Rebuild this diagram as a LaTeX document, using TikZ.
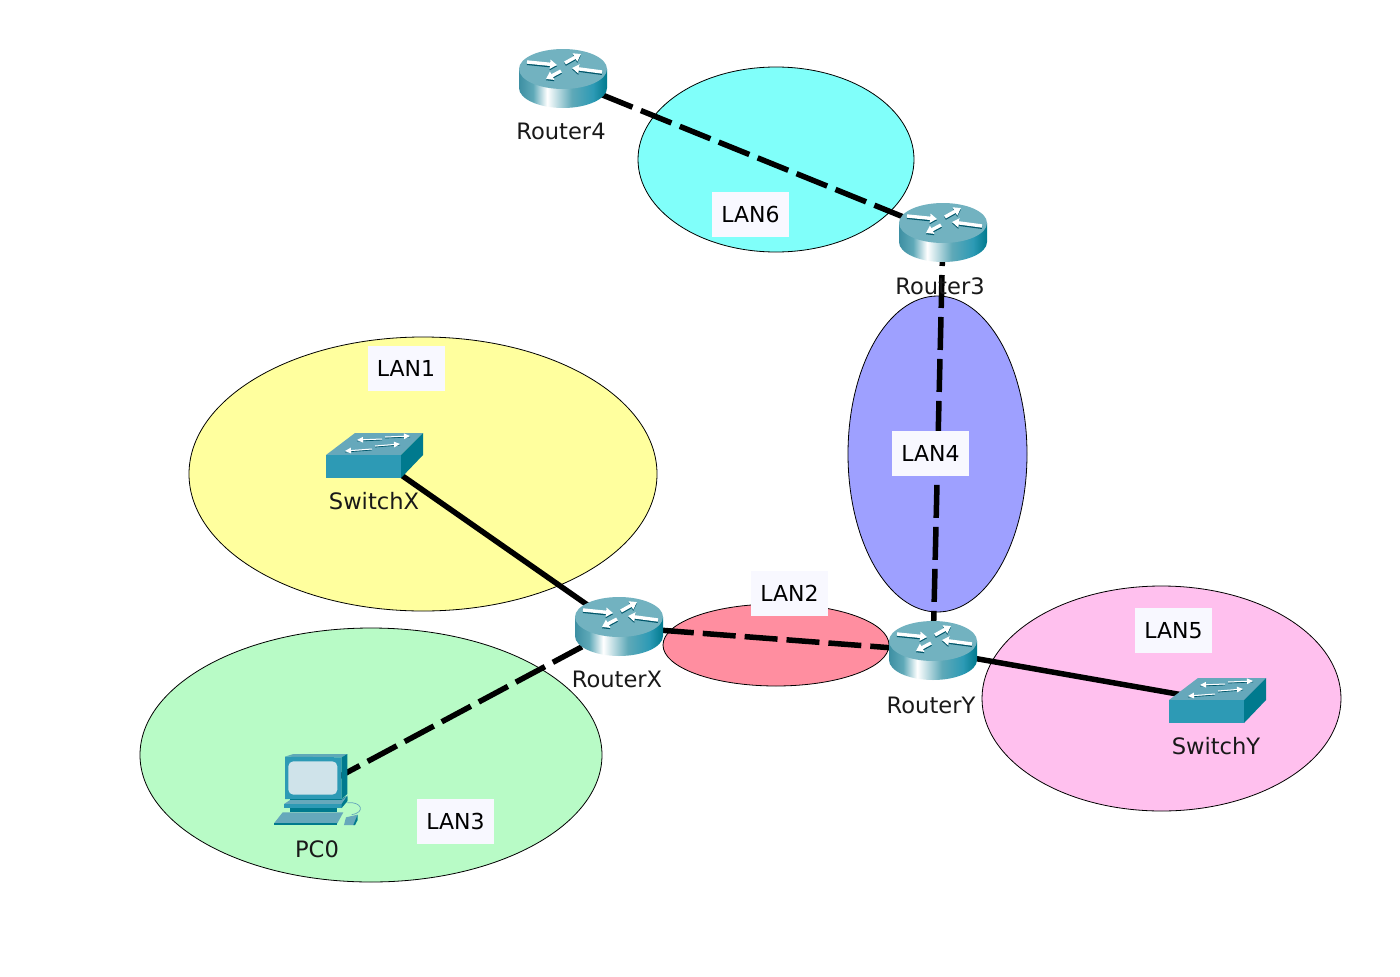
\documentclass[tikz,border=0pt]{standalone}
\usepackage{fontspec}
\setmainfont{DejaVu Sans}
\usetikzlibrary{arrows.meta}
\definecolor{iconA}{HTML}{3D8FA3}
\definecolor{iconB}{HTML}{72B2C0}
\definecolor{iconC}{HTML}{5FA9B8}
\definecolor{iconD}{HTML}{007A8E}
\definecolor{iconE}{HTML}{2D9AB5}
\definecolor{iconF}{HTML}{66A8BB}
\definecolor{iconG}{HTML}{CFE3EA}
\definecolor{iconH}{HTML}{00566A}
\definecolor{iconI}{HTML}{4AA0B6}
\pgfdeclarehorizontalshading{routerbody}{100bp}{color(0bp)=(iconA);color(25bp)=(iconA);color(33bp)=(iconC);color(41bp)=(white);color(55bp)=(iconC);color(67bp)=(iconE);color(75bp)=(iconD);color(100bp)=(iconD)}
\tikzset{
  x=1pt,y=-1pt,
  lan/.style={draw=black,line width=0.8pt},
  lanlabel/.style={fill=labelbg,minimum width=77pt,minimum height=45pt,inner sep=0pt,font=\fontsize{22}{26}\selectfont},
  devlabel/.style={inner sep=0pt,font=\fontsize{22.6}{26}\selectfont,text=black!90},
  hub/.style={inner sep=0pt,minimum size=0pt,outer sep=0pt},
  solidlink/.style={line width=5.5pt,black},
  dashlink/.style={line width=5.5pt,black,dash pattern=on 33pt off 9pt},
  iconarrow/.style={-{Triangle[length=7pt,width=9pt]},line width=3.4pt,white},
  iconshadow/.style={-{Triangle[length=7pt,width=9pt]},line width=3.4pt,iconH},
  router/.pic={
    \shade[shading=routerbody] (-44,-10) -- (-44,9) .. controls (-44,20) and (-24,29) .. (0,29) .. controls (24,29) and (44,20) .. (44,9) -- (44,-10) -- cycle;
    \fill[iconB] (0,-10) ellipse [x radius=44pt,y radius=20pt];
    \foreach \ax/\ay/\bx/\by in {-36/-17/-6/-14, 39/-7/9/-11, 2/-16/18/-25, -2/-8/-17/0}{
      \draw[iconshadow] (\ax,\ay+1.3) -- (\bx,\by+1.3);
      \draw[iconarrow] (\ax,\ay) -- (\bx,\by);
    }
  },
  switchicon/.pic={
    \fill[iconF] (-48,-1) -- (-19,-23) -- (49,-23) -- (27,-1) -- cycle;
    \fill[iconE] (-48,-1) -- (27,-1) -- (27,22) -- (-48,22) -- cycle;
    \fill[iconD] (27,-1) -- (49,-23) -- (49,-1) -- (27,22) -- cycle;
    \foreach \ax/\ay/\bx/\by in {8/-17/-17/-16, 11/-19/36/-20, -2/-7/-29/-5, 1/-10/26/-12}{
      \draw[iconH,line width=0.8pt] (\ax,\ay+1) -- (\bx,\by+1);
      \draw[white,-{Triangle[length=6pt,width=5.5pt]},line width=1pt] (\ax,\ay) -- (\bx,\by);
    }
  },
  pcicon/.pic={
    \begin{scope}[shift={(-56pt,45pt)},x=0.3333pt,y=-0.3333pt]
      \fill[iconC] (75,38) -- (100,30) -- (262,30) -- (245,40) -- cycle;
      \fill[iconE] (75,38) -- (245,40) -- (245,165) -- (75,165) -- cycle;
      \fill[iconD] (245,40) -- (262,30) -- (262,150) -- (245,165) -- cycle;
      \fill[iconG,rounded corners=5pt] (85,52) rectangle (232,152);
      \fill[iconD] (90,165) -- (245,165) -- (262,155) -- (262,170) -- (245,180) -- (90,180) -- cycle;
      \fill[iconF] (72,180) -- (90,168) -- (245,168) -- (262,155) -- (245,180) -- cycle;
      \fill[iconE] (72,180) -- (245,180) -- (245,192) -- (72,192) -- cycle;
      \fill[iconD] (245,180) -- (262,158) -- (262,172) -- (245,192) -- cycle;
      \fill[iconD] (90,192) -- (232,192) -- (232,205) -- (90,205) -- cycle;
      \fill[iconF] (42,238) -- (68,205) -- (250,205) -- (232,238) -- cycle;
      \fill[iconD] (42,238) -- (232,238) -- (232,243) -- (42,243) -- cycle;
      \draw[iconF,line width=0.7pt] (262,176) .. controls (305,172) and (318,205) .. (275,212);
      \fill[iconF] (252,243) -- (258,220) -- (293,212) -- (285,243) -- cycle;
      \fill[iconD] (280,243) -- (293,212) -- (293,228) -- (285,243) -- cycle;
    \end{scope}
  }
}
\definecolor{labelbg}{HTML}{F8F8FF}
\begin{document}
\begin{tikzpicture}
\useasboundingbox (0,0) rectangle (1400,977);
\fill[white] (0,0) rectangle (1400,977);
% LAN areas
\draw[lan,fill={rgb,255:red,128;green,255;blue,250}] (776,159.5) ellipse [x radius=138pt,y radius=92.5pt];
\draw[lan,fill={rgb,255:red,158;green,160;blue,255}] (937.5,454) ellipse [x radius=89.5pt,y radius=158pt];
\draw[lan,fill={rgb,255:red,255;green,255;blue,158}] (423,474) ellipse [x radius=234pt,y radius=137pt];
\draw[lan,fill={rgb,255:red,184;green,251;blue,198}] (371,755) ellipse [x radius=231pt,y radius=127pt];
\draw[lan,fill={rgb,255:red,255;green,142;blue,160}] (776,645) ellipse [x radius=113pt,y radius=41pt];
\draw[lan,fill={rgb,255:red,255;green,192;blue,238}] (1161.5,698.5) ellipse [x radius=179.5pt,y radius=112.5pt];
% device anchors
\node[hub] (r4) at (563,79) {};
\node[hub] (r3) at (943,233) {};
\node[hub] (rx) at (619,627) {};
\node[hub] (ry) at (933,651) {};
\node[hub] (sx) at (374,456) {};
\node[hub] (sy) at (1217,701) {};
\node[hub] (pc) at (316,789) {};
% links
\draw[dashlink] (r4) -- (r3);
\draw[dashlink] (r3) -- (ry);
\draw[dashlink] (rx) -- (ry);
\draw[dashlink] (rx) -- (pc);
\draw[solidlink] (sx) -- (rx);
\draw[solidlink] (ry) -- (sy);
% icons
\pic at (r4) {router};
\pic at (r3) {router};
\pic at (rx) {router};
\pic at (ry) {router};
\pic at (sx) {switchicon};
\pic at (sy) {switchicon};
\pic at (pc) {pcicon};
% device labels
\node[devlabel] (lr4) at (561,131) {Router4};
\node[devlabel] (lr3) at (940,286) {Router3};
\node[devlabel] (lrx) at (617,679) {RouterX};
\node[devlabel] (lry) at (931,705) {RouterY};
\node[devlabel] (lsx) at (374,501) {SwitchX};
\node[devlabel] (lsy) at (1216,746) {SwitchY};
\node[devlabel] (lpc) at (317,849) {PC0};
% LAN labels
\node[lanlabel] (l6) at (750.5,214) {LAN6};
\node[lanlabel] (l1) at (406,368.5) {LAN1};
\node[lanlabel] (l4) at (930.5,453.5) {LAN4};
\node[lanlabel] (l2) at (789.5,593.5) {LAN2};
\node[lanlabel] (l5) at (1173.5,630.5) {LAN5};
\node[lanlabel] (l3) at (455.5,821.5) {LAN3};
\end{tikzpicture}
\end{document}
